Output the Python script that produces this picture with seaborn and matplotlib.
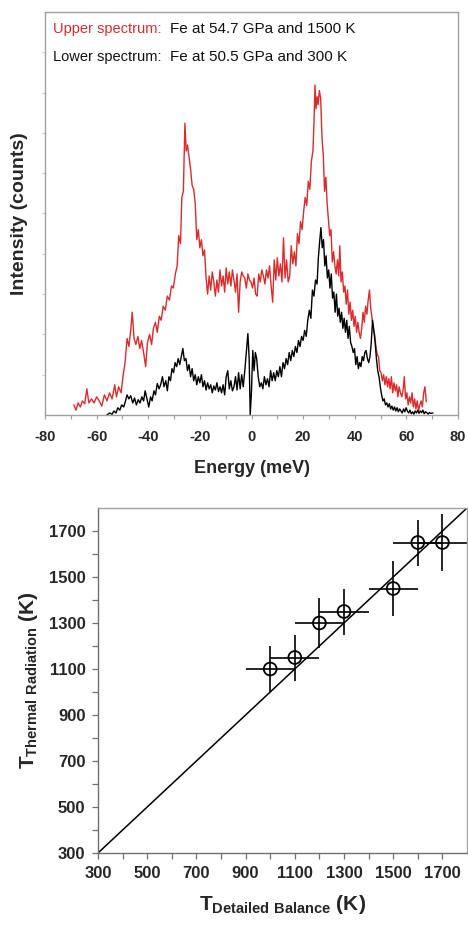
import numpy as np
import pandas as pd
import matplotlib
matplotlib.use("Agg")
import matplotlib.pyplot as plt
import seaborn as sns

# upper spectrum: Fe at 54.7 GPa and 1500 K (energy meV, intensity arb.)
red_e = [-68.8, -68.0, -67.2, -66.3, -65.5, -64.6, -63.8, -63.0, -62.0, -61.0, -60.0, -59.0, -58.0, -57.0,
         -56.0, -55.0, -54.0, -53.0, -52.3, -51.5, -50.5, -49.8, -49.0, -48.2, -47.5, -46.8, -46.2, -45.5,
         -44.8, -44.0, -43.3, -42.6, -41.8, -41.0, -40.3, -39.5, -38.7, -38.0, -37.2, -36.5, -35.7, -35.0,
         -34.2, -33.4, -32.6, -31.8, -31.0, -30.3, -29.5, -28.8, -28.2, -27.5, -27.0, -26.4, -25.8, -25.3,
         -24.8, -24.2, -23.6, -23.0, -22.4, -21.8, -21.2, -20.6, -20.0, -19.4, -18.8, -18.2, -17.6, -17.0,
         -16.4, -15.8, -15.2, -14.6, -14.0, -13.4, -12.8, -12.2, -11.6, -11.0, -10.4, -9.8, -9.2, -8.6,
         -8.0, -7.4, -6.8, -6.2, -5.6, -5.0, -4.4, -3.8, -3.2, -2.6, -2.0, -1.4, -0.8, -0.2, 0.4, 1.0,
         1.6, 2.2, 2.8, 3.4, 4.0, 4.6, 5.2, 5.8, 6.4, 7.0, 7.6, 8.2, 8.8, 9.4, 10.0, 10.6, 11.2, 11.8,
         12.4, 13.0, 13.6, 14.2, 14.8, 15.4, 16.0, 16.6, 17.2, 17.8, 18.4, 19.0, 19.6, 20.2, 20.8, 21.4,
         22.0, 22.6, 23.2, 23.8, 24.2, 24.6, 25.0, 25.4, 25.8, 26.3, 26.8, 27.3, 27.8, 28.3, 28.8, 29.3,
         29.8, 30.3, 30.8, 31.3, 31.8, 32.3, 32.8, 33.3, 33.8, 34.2, 34.7, 35.2, 35.7, 36.2, 36.7, 37.2,
         37.7, 38.2, 38.7, 39.2, 39.7, 40.2, 40.7, 41.2, 41.7, 42.2, 42.7, 43.2, 43.7, 44.2, 44.7, 45.2,
         45.7, 46.2, 46.7, 47.2, 47.7, 48.2, 48.7, 49.2, 49.7, 50.2, 50.7, 51.2, 51.7, 52.2, 52.7, 53.2,
         53.7, 54.2, 54.7, 55.2, 55.7, 56.2, 56.7, 57.2, 57.7, 58.2, 58.7, 59.2, 59.7, 60.2, 60.7, 61.2,
         61.7, 62.2, 62.7, 63.2, 63.7, 64.2, 64.7, 65.2, 65.7, 66.2, 66.7, 67.2, 67.7]
red_i = [0.25, 0.12, 0.30, 0.20, 0.35, 0.28, 0.65, 0.30, 0.40, 0.30, 0.45, 0.35, 0.22, 0.50,
         0.35, 0.55, 0.40, 0.75, 0.45, 0.70, 0.55, 0.95, 1.30, 1.90, 1.70, 2.10, 2.55, 1.90,
         1.75, 1.95, 1.65, 1.85, 1.55, 1.20, 1.80, 2.00, 1.75, 2.15, 2.30, 2.05, 2.45, 2.35,
         2.70, 2.60, 2.95, 2.85, 3.20, 3.15, 3.50, 3.70, 4.45, 4.25, 5.40, 5.55, 7.24, 6.55,
         6.70, 6.40, 6.10, 5.70, 5.60, 5.25, 4.35, 4.60, 4.15, 4.35, 3.95, 4.10, 3.40, 3.00,
         3.45, 3.10, 3.55, 3.30, 2.95, 3.35, 3.05, 3.60, 3.20, 3.45, 3.05, 3.65, 3.25, 3.55,
         3.20, 3.60, 3.35, 3.05, 3.50, 2.55, 3.30, 3.55, 3.45, 3.40, 3.15, 3.50, 3.35, 3.30, 3.15, 3.40,
         3.00, 2.95, 3.50, 3.30, 3.60, 3.45, 3.25, 3.60, 3.40, 3.70, 3.20, 2.80, 3.85, 3.35, 3.90, 3.45, 3.75, 3.30,
         4.40, 3.40, 3.85, 3.30, 3.45, 4.20, 3.75, 4.05, 3.70, 4.50, 4.25, 4.80, 4.60, 5.05, 5.40, 5.20,
         5.80, 5.60, 6.30, 6.55, 7.25, 8.19, 7.60, 7.90, 7.70, 8.05, 7.85, 6.90, 6.45, 5.55, 5.90, 5.25,
         4.85, 4.45, 4.60, 3.80, 4.05, 3.70, 3.50, 3.85, 3.45, 4.20, 3.30, 3.55, 3.05, 3.20, 2.75, 3.10,
         2.50, 2.80, 2.35, 2.60, 2.20, 2.45, 2.05, 2.30, 2.05, 1.90, 2.15, 2.55, 2.30, 2.70, 2.50, 2.85,
         3.10, 2.65, 2.40, 2.10, 2.00, 1.70, 1.50, 1.45, 1.10, 1.05, 0.85, 1.00, 0.75, 0.95, 0.70, 0.90,
         0.65, 0.95, 0.55, 0.80, 0.60, 0.75, 0.45, 0.70, 0.55, 0.45, 0.60, 0.95, 0.40, 0.55, 0.25, 0.45,
         0.30, 0.55, 0.20, 0.40, 0.15, 0.35, 0.10, 0.25, 0.35, 0.20, 0.55, 0.70, 0.33]

# lower spectrum: Fe at 50.5 GPa and 300 K
blk_e = [-56.0, -55.0, -54.0, -53.3, -52.5, -51.8, -51.0, -50.3, -49.5, -48.8, -48.2, -47.5, -46.8, -46.0,
         -45.3, -44.6, -43.9, -43.2, -42.5, -41.8, -41.2, -40.5, -39.8, -39.1, -38.5, -37.8, -37.2, -36.5,
         -35.8, -35.2, -34.5, -33.9, -33.2, -32.6, -32.0, -31.4, -30.8, -30.2, -29.6, -29.0, -28.4, -27.8,
         -27.2, -26.6, -26.0, -25.4, -24.8, -24.2, -23.6, -23.0, -22.4, -21.8, -21.2, -20.6, -20.0, -19.4,
         -18.8, -18.2, -17.6, -17.0, -16.4, -15.8, -15.2, -14.6, -14.0, -13.4, -12.8, -12.2, -11.6, -11.0,
         -10.4, -9.8, -9.2, -8.6, -8.0, -7.4, -6.8, -6.2, -5.6, -5.0, -4.4, -3.8, -3.2, -2.6, -2.0, -1.4,
         -0.9, -0.5, 0.0, 0.5, 1.0, 1.5, 2.0, 2.6, 3.2, 3.8, 4.4, 5.0, 5.6, 6.2, 6.8, 7.4, 8.0, 8.6,
         9.2, 9.8, 10.4, 11.0, 11.6, 12.2, 12.8, 13.4, 14.0, 14.6, 15.2, 15.8, 16.4, 17.0, 17.6, 18.2,
         18.8, 19.4, 20.0, 20.6, 21.2, 21.8, 22.4, 23.0, 23.6, 24.2, 24.8, 25.4, 25.9, 26.4, 26.9, 27.4,
         27.9, 28.4, 28.9, 29.4, 29.9, 30.4, 30.9, 31.4, 31.9, 32.4, 32.9, 33.4, 33.9, 34.4, 34.9, 35.4,
         35.9, 36.4, 36.9, 37.4, 37.9, 38.4, 38.9, 39.4, 39.9, 40.4, 40.9, 41.4, 41.9, 42.4, 42.9, 43.4,
         43.9, 44.4, 44.9, 45.4, 45.9, 46.4, 46.9, 47.4, 47.9, 48.4, 48.9, 49.4, 49.9, 50.4, 50.9, 51.4,
         51.9, 52.4, 52.9, 53.4, 53.9, 54.4, 54.9, 55.4, 55.9, 56.4, 56.9, 57.4, 57.9, 58.4, 58.9, 59.4,
         59.9, 60.4, 60.9, 61.4, 61.9, 62.4, 62.9, 63.4, 63.9, 64.4, 64.9, 65.4, 65.9, 66.4, 66.9, 67.4,
         67.9, 68.4, 68.9, 69.4, 70.3]
blk_i = [0.00, 0.05, 0.02, 0.10, 0.05, 0.18, 0.12, 0.25, 0.20, 0.35, 0.50, 0.40, 0.48, 0.30,
         0.42, 0.25, 0.38, 0.30, 0.45, 0.35, 0.60, 0.40, 0.20, 0.45, 0.35, 0.60, 0.50, 0.78,
         0.65, 0.75, 0.95, 0.70, 0.85, 0.60, 0.95, 0.85, 1.15, 1.05, 1.30, 1.20, 1.40, 1.25,
         1.45, 1.65, 1.35, 1.40, 1.10, 1.25, 0.95, 1.15, 0.85, 1.00, 0.75, 0.95, 0.80, 1.00,
         0.70, 0.85, 0.62, 0.80, 0.65, 0.75, 0.55, 0.72, 0.62, 0.80, 0.58, 0.70, 0.55, 0.75,
         0.50, 0.95, 1.10, 0.65, 0.85, 0.60, 0.70, 0.95, 0.62, 1.05, 0.65, 1.00, 0.70, 1.10, 1.55, 2.02,
         1.40, 0.00, 0.60, 1.60, 1.10, 1.55, 1.40, 0.95, 0.70, 0.80, 0.65, 0.95, 0.75, 0.90, 0.70, 1.10, 0.85, 1.05,
         0.85, 1.10, 0.95, 1.20, 0.95, 1.30, 1.15, 1.40, 1.25, 1.55, 1.35, 1.60, 1.45, 1.70, 1.55, 1.85,
         1.70, 1.95, 1.85, 2.10, 1.95, 2.35, 2.60, 2.40, 3.10, 2.95, 3.35, 3.25, 3.90, 4.30, 4.65, 4.15,
         4.35, 3.70, 3.95, 3.40, 3.60, 3.15, 3.50, 2.90, 3.05, 2.55, 3.00, 2.45, 2.65, 2.30, 2.55, 2.15,
         2.40, 2.05, 2.35, 1.90, 2.20, 1.80, 1.70, 1.55, 1.65, 1.25, 1.45, 1.15, 1.30, 1.20, 1.45, 1.35,
         1.55, 1.60, 1.40, 1.30, 1.45, 1.80, 2.35, 2.10, 1.80, 1.40, 1.10, 0.95, 0.70, 0.50, 0.35, 0.40,
         0.25, 0.30, 0.20, 0.28, 0.15, 0.22, 0.12, 0.20, 0.10, 0.18, 0.08, 0.15, 0.10, 0.05, 0.15, 0.08,
         0.18, 0.10, 0.05, 0.12, 0.03, 0.08, 0.02, 0.10, 0.05, 0.12, 0.04, 0.10, 0.06, 0.12, 0.03, 0.08,
         0.06, 0.02, 0.06, 0.04, 0.05]

# temperature comparison
t_balance = [1000, 1100, 1200, 1300, 1500, 1600, 1700]
t_radiation = [1100, 1150, 1300, 1350, 1450, 1650, 1650]
x_err = [100, 100, 100, 100, 100, 100, 100]
y_err = [100, 100, 110, 100, 120, 100, 125]
diag = [300, 1800]

sns.set_style("ticks")
plt.rcParams["font.family"] = ["Liberation Sans", "DejaVu Sans"]
plt.rcParams["axes.unicode_minus"] = False
plt.rcParams["mathtext.fontset"] = "custom"
plt.rcParams["mathtext.rm"] = "Liberation Sans"
plt.rcParams["mathtext.bf"] = "Liberation Sans:bold"

RED = "#dd2a2a"
GRAY = "#a0a0a0"

fig = plt.figure(figsize=(4.68, 9.26), dpi=100)

# ---- top: spectra ----
ax1 = fig.add_axes([45 / 468, 1 - 415 / 926, 413 / 468, 403 / 926])
spec = pd.concat([
    pd.DataFrame({"E": red_e, "I": red_i, "s": "upper"}),
    pd.DataFrame({"E": blk_e, "I": blk_i, "s": "lower"}),
])
sns.lineplot(data=spec, x="E", y="I", hue="s", palette={"upper": RED, "lower": "black"},
             estimator=None, sort=False, linewidth=1.0, legend=False, ax=ax1)
ax1.set_xlim(-80, 80)
ax1.set_ylim(0, 10)
ax1.set_xticks(range(-80, 81, 20))
ax1.set_xticks(range(-70, 80, 20), minor=True)
ax1.set_yticks(range(1, 10))
ax1.set_yticklabels([])
ax1.tick_params(axis="x", which="both", length=3, width=0.8, color=GRAY,
                labelsize=10.5, pad=8)
ax1.tick_params(axis="y", length=2, width=0.8, color="#d0d0d0")
for lab in ax1.get_xticklabels():
    lab.set_fontweight("bold")
for sp in ax1.spines.values():
    sp.set_color(GRAY)
    sp.set_linewidth(1.0)
ax1.set_xlabel("Energy (meV)", fontsize=13, fontweight="bold", labelpad=11)
ax1.set_ylabel("Intensity (counts)", fontsize=14, fontweight="bold", labelpad=7)
ax1.text(0.019, 0.957, "Upper spectrum:", color=RED, fontsize=10.5, transform=ax1.transAxes, va="center")
ax1.text(0.303, 0.957, "Fe at 54.7 GPa and 1500 K", color="#111111", fontsize=11, transform=ax1.transAxes, va="center")
ax1.text(0.019, 0.888, "Lower spectrum:", color="#111111", fontsize=10.5, transform=ax1.transAxes, va="center")
ax1.text(0.303, 0.888, "Fe at 50.5 GPa and 300 K", color="#111111", fontsize=11, transform=ax1.transAxes, va="center")

# ---- bottom: temperatures ----
ax2 = fig.add_axes([98 / 468, 1 - 853 / 926, 369 / 468, 345 / 926])
sns.lineplot(x=diag, y=diag, color="black", linewidth=1.1, ax=ax2)
ax2.errorbar(t_balance, t_radiation, xerr=x_err, yerr=y_err, fmt="none",
             ecolor="black", elinewidth=1.2, capsize=0)
sns.scatterplot(x=t_balance, y=t_radiation, s=85, facecolor="none",
                edgecolor="black", linewidth=1.3, ax=ax2, zorder=5)
ax2.set_xlim(300, 1800)
ax2.set_ylim(300, 1800)
ax2.set_xticks(range(300, 1800, 200))
ax2.set_yticks(range(300, 1800, 200))
ax2.set_xticks(range(400, 1800, 200), minor=True)
ax2.set_yticks(range(400, 1800, 200), minor=True)
ax2.tick_params(which="both", length=4, width=0.9, color="#707070", labelsize=12, pad=5)
for lab in ax2.get_xticklabels() + ax2.get_yticklabels():
    lab.set_fontweight("bold")
for side in ["left", "bottom"]:
    ax2.spines[side].set_color("#707070")
    ax2.spines[side].set_linewidth(1.0)
for side in ["top", "right"]:
    ax2.spines[side].set_color(GRAY)
    ax2.spines[side].set_linewidth(1.0)
ax2.set_xlabel(r"$\mathbf{T}_{\mathbf{Detailed\ Balance}}$ (K)", fontsize=15, fontweight="bold", labelpad=9)
ax2.set_ylabel(r"$\mathbf{T}_{\mathbf{Thermal\ Radiation}}$ (K)", fontsize=15, fontweight="bold", labelpad=6)

fig.savefig("out.png", dpi=100)
